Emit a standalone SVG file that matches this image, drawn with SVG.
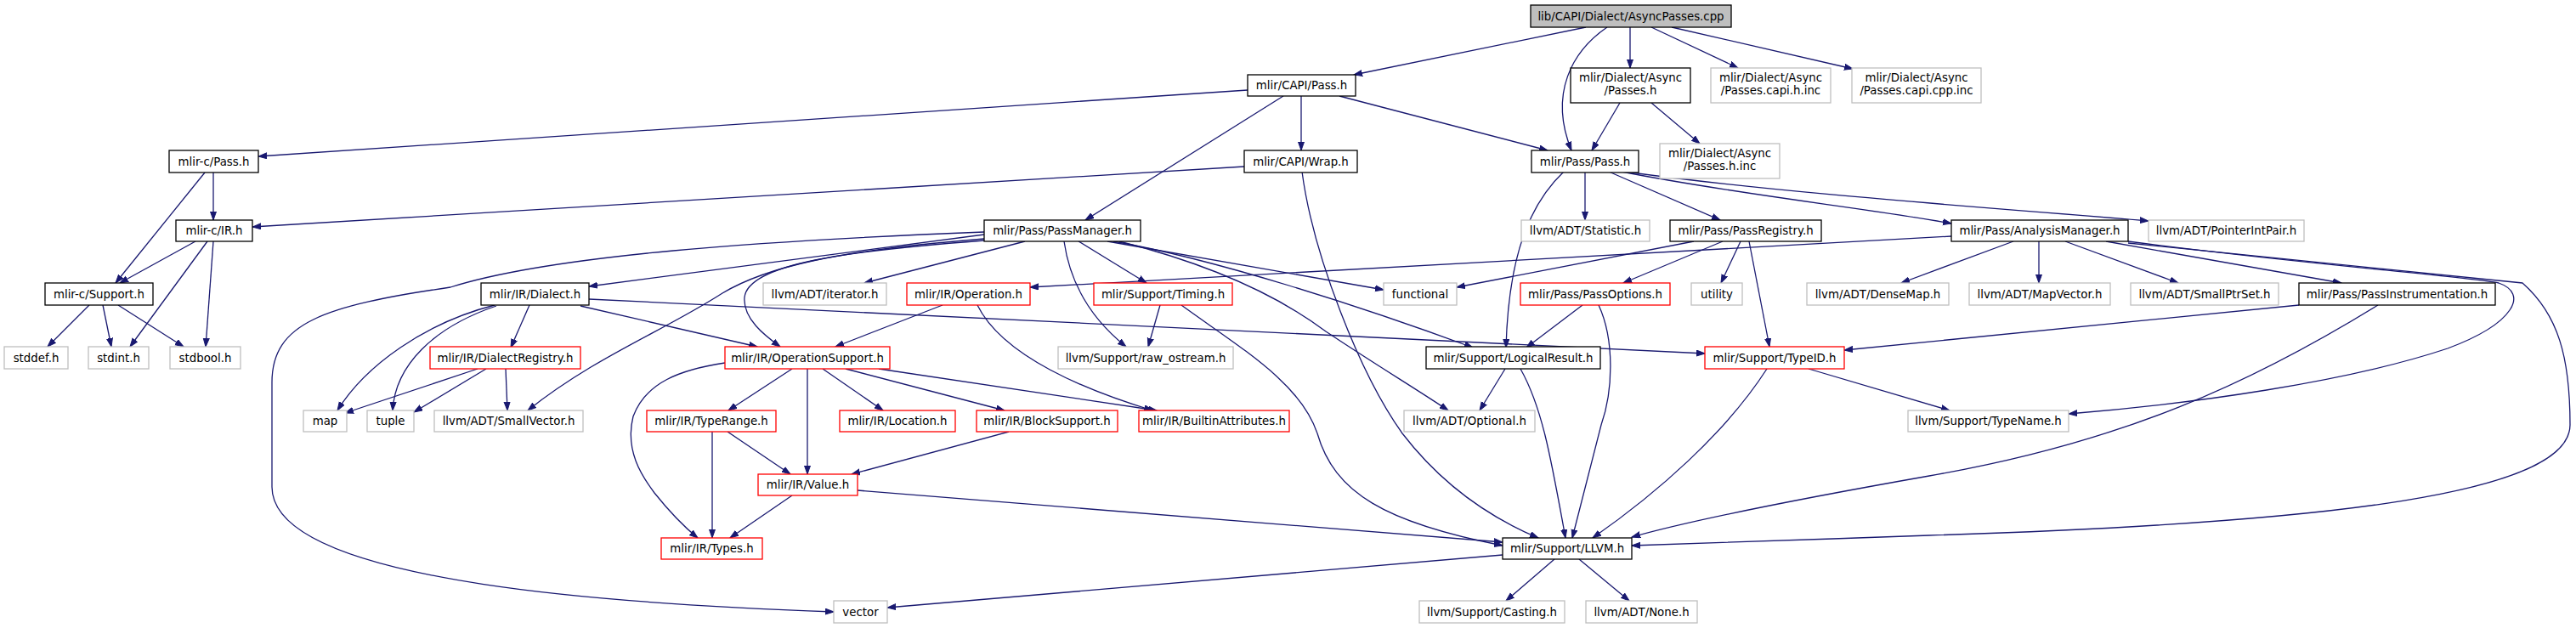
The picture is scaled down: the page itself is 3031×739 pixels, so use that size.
<svg xmlns="http://www.w3.org/2000/svg" width="3031" height="739" viewBox="0 0 3031 739">
<style>
rect{stroke-width:1.3}
.doc{fill:#fff;stroke:#000}
.ext{fill:#fff;stroke:#bfbfbf}
.tr{fill:#fff;stroke:#ff0000}
.root{fill:#bfbfbf;stroke:#000}
text{font-family:"DejaVu Sans",sans-serif;font-size:13.33px;text-anchor:middle;fill:#000}
#edges path{fill:none;stroke:#191970;stroke-width:1.3;marker-end:url(#a)}
</style>
<defs>
<marker id="a" markerWidth="11" markerHeight="9" refX="10" refY="4" orient="auto" markerUnits="userSpaceOnUse">
<path d="M0,0.5 L10,4 L0,7.5 z" fill="#191970" stroke="#191970" stroke-width="1"/>
</marker>
</defs>
<rect width="3031" height="739" fill="#fff"/>
<g id="edges">
<path d="M1866,32 L1593,88"/>
<path d="M1891,32 C1850,60 1822,110 1849,177"/>
<path d="M1918,32 L1918,80"/>
<path d="M1943,32 L2045,80"/>
<path d="M1967,32 L2180,81"/>
<path d="M1468,106 L304,184"/>
<path d="M1510,113 L1277,259"/>
<path d="M1576,113 L1821,177"/>
<path d="M1531,113 L1531,177"/>
<path d="M1906,121 L1873,177"/>
<path d="M1943,121 L2000,169"/>
<path d="M241,203 L136,333"/>
<path d="M251,203 L251,259"/>
<path d="M1464,196 L297,267"/>
<path d="M1532,202 C1545,300 1600,440 1650,510 C1700,575 1760,612 1810,633"/>
<path d="M1840,202 C1800,240 1775,300 1772,409"/>
<path d="M1865,202 L1865,259"/>
<path d="M1893,202 L2024,259"/>
<path d="M1908,202 C2050,230 2200,245 2296,263"/>
<path d="M1912,202 C2100,228 2350,245 2528,260"/>
<path d="M1158,273 C900,283 650,300 530,338 C380,360 320,380 320,450 L320,573 C320,690 760,712 981,720"/>
<path d="M1158,276 L693,337"/>
<path d="M1158,281 C980,295 900,315 850,345 C780,390 700,420 621,483"/>
<path d="M1158,283 C1000,295 880,310 876,350 C874,375 900,395 918,408"/>
<path d="M1206,284 L1017,333"/>
<path d="M1252,284 C1260,340 1290,380 1325,408"/>
<path d="M1269,284 L1349,333"/>
<path d="M1303,284 L1628,341"/>
<path d="M1310,284 C1430,305 1600,360 1733,409"/>
<path d="M1317,284 C1420,310 1500,345 1560,390 C1620,430 1670,460 1704,483"/>
<path d="M1993,284 L1714,338"/>
<path d="M2027,284 L1910,333"/>
<path d="M2048,284 L2025,333"/>
<path d="M2058,284 L2082,408"/>
<path d="M2296,278 L1212,338"/>
<path d="M2369,284 L2237,333"/>
<path d="M2399,284 L2399,333"/>
<path d="M2430,284 L2563,333"/>
<path d="M2478,284 L2755,333"/>
<path d="M2504,284 C2700,310 2900,325 2940,333 C2975,345 2960,380 2880,410 C2760,450 2580,475 2434,487"/>
<path d="M2504,286 L2968,333 C3010,370 3024,420 3024,500 C3024,580 2750,615 2270,630 C2150,634 2000,640 1920,642"/>
<path d="M2705,359 L2170,412"/>
<path d="M2798,359 C2650,450 2500,520 2270,560 C2100,590 1980,615 1920,632"/>
<path d="M1862,359 L1796,409"/>
<path d="M1881,359 C1900,400 1898,460 1884,500 L1850,633"/>
<path d="M1771,434 L1741,483"/>
<path d="M1789,434 C1815,480 1825,540 1842,633"/>
<path d="M2079,434 C2030,510 1950,580 1874,633"/>
<path d="M2128,434 L2294,483"/>
<path d="M1365,359 L1351,408"/>
<path d="M1390,359 C1460,410 1530,450 1550,510 C1570,580 1630,615 1768,642"/>
<path d="M1109,359 L983,408"/>
<path d="M1150,359 C1180,420 1280,460 1356,483"/>
<path d="M623,359 L601,409"/>
<path d="M582,359 C500,380 430,430 397,483"/>
<path d="M584,360 C510,385 465,430 462,483"/>
<path d="M683,360 L891,408"/>
<path d="M693,352 L2006,416"/>
<path d="M562,434 L406,486"/>
<path d="M572,434 L487,485"/>
<path d="M595,434 L597,483"/>
<path d="M853,427 C800,435 760,450 745,490 C735,530 755,560 770,580 C790,605 805,620 821,633"/>
<path d="M932,434 L857,483"/>
<path d="M950,434 L950,558"/>
<path d="M968,434 L1039,483"/>
<path d="M995,434 L1182,483"/>
<path d="M1034,434 L1361,483"/>
<path d="M838,508 L838,633"/>
<path d="M856,508 L930,558"/>
<path d="M1187,508 L1002,558"/>
<path d="M932,583 L859,633"/>
<path d="M1009,577 L1768,638"/>
<path d="M1768,653 L1044,715"/>
<path d="M1829,658 L1772,707"/>
<path d="M1858,658 L1917,707"/>
<path d="M230,284 L141,333"/>
<path d="M244,284 L153,408"/>
<path d="M251,284 L242,408"/>
<path d="M105,359 L56,408"/>
<path d="M121,359 L131,408"/>
<path d="M139,359 L216,408"/>
</g>
<g id="n_root"><rect class="root" x="1801" y="6" width="236" height="26"/><text x="1919" y="23.5">lib/CAPI/Dialect/AsyncPasses.cpp</text></g>
<g id="n_capi_pass"><rect class="doc" x="1468" y="88" width="127" height="25"/><text x="1531.5" y="105">mlir/CAPI/Pass.h</text></g>
<g id="n_async_passes"><rect class="doc" x="1848" y="80" width="141" height="41"/><text x="1918.5" y="96">mlir/Dialect/Async</text><text x="1918.5" y="111">/Passes.h</text></g>
<g id="n_capi_h_inc"><rect class="ext" x="2013" y="80" width="141" height="41"/><text x="2083.5" y="96">mlir/Dialect/Async</text><text x="2083.5" y="111">/Passes.capi.h.inc</text></g>
<g id="n_capi_cpp_inc"><rect class="ext" x="2179" y="80" width="152" height="41"/><text x="2255" y="96">mlir/Dialect/Async</text><text x="2255" y="111">/Passes.capi.cpp.inc</text></g>
<g id="n_c_pass"><rect class="doc" x="199" y="177" width="105" height="26"/><text x="251.5" y="194.5">mlir-c/Pass.h</text></g>
<g id="n_wrap"><rect class="doc" x="1464" y="177" width="133" height="26"/><text x="1530.5" y="194.5">mlir/CAPI/Wrap.h</text></g>
<g id="n_pass_pass"><rect class="doc" x="1802" y="177" width="126" height="26"/><text x="1865" y="194.5">mlir/Pass/Pass.h</text></g>
<g id="n_passes_h_inc"><rect class="ext" x="1953" y="169" width="141" height="41"/><text x="2023.5" y="185">mlir/Dialect/Async</text><text x="2023.5" y="200">/Passes.h.inc</text></g>
<g id="n_c_ir"><rect class="doc" x="207" y="259" width="90" height="25"/><text x="252" y="276">mlir-c/IR.h</text></g>
<g id="n_passmanager"><rect class="doc" x="1158" y="259" width="184" height="25"/><text x="1250" y="276">mlir/Pass/PassManager.h</text></g>
<g id="n_statistic"><rect class="ext" x="1790" y="259" width="151" height="25"/><text x="1865.5" y="276">llvm/ADT/Statistic.h</text></g>
<g id="n_registry"><rect class="doc" x="1965" y="259" width="178" height="25"/><text x="2054" y="276">mlir/Pass/PassRegistry.h</text></g>
<g id="n_analysis"><rect class="doc" x="2296" y="259" width="208" height="25"/><text x="2400" y="276">mlir/Pass/AnalysisManager.h</text></g>
<g id="n_pointerint"><rect class="ext" x="2528" y="259" width="183" height="25"/><text x="2619.5" y="276">llvm/ADT/PointerIntPair.h</text></g>
<g id="n_c_support"><rect class="doc" x="53" y="333" width="127" height="26"/><text x="116.5" y="350.5">mlir-c/Support.h</text></g>
<g id="n_dialect"><rect class="doc" x="566" y="333" width="127" height="26"/><text x="629.5" y="350.5">mlir/IR/Dialect.h</text></g>
<g id="n_iterator"><rect class="ext" x="898" y="333" width="145" height="26"/><text x="970.5" y="350.5">llvm/ADT/iterator.h</text></g>
<g id="n_operation"><rect class="tr" x="1067" y="333" width="145" height="26"/><text x="1139.5" y="350.5">mlir/IR/Operation.h</text></g>
<g id="n_timing"><rect class="tr" x="1287" y="333" width="163" height="26"/><text x="1368.5" y="350.5">mlir/Support/Timing.h</text></g>
<g id="n_functional"><rect class="ext" x="1628" y="333" width="86" height="26"/><text x="1671" y="350.5">functional</text></g>
<g id="n_passoptions"><rect class="tr" x="1789" y="333" width="176" height="26"/><text x="1877" y="350.5">mlir/Pass/PassOptions.h</text></g>
<g id="n_utility"><rect class="ext" x="1990" y="333" width="60" height="26"/><text x="2020" y="350.5">utility</text></g>
<g id="n_densemap"><rect class="ext" x="2126" y="333" width="167" height="26"/><text x="2209.5" y="350.5">llvm/ADT/DenseMap.h</text></g>
<g id="n_mapvector"><rect class="ext" x="2317" y="333" width="166" height="26"/><text x="2400" y="350.5">llvm/ADT/MapVector.h</text></g>
<g id="n_smallptrset"><rect class="ext" x="2507" y="333" width="174" height="26"/><text x="2594" y="350.5">llvm/ADT/SmallPtrSet.h</text></g>
<g id="n_passinstr"><rect class="doc" x="2705" y="333" width="231" height="26"/><text x="2820.5" y="350.5">mlir/Pass/PassInstrumentation.h</text></g>
<g id="n_stddef"><rect class="ext" x="5" y="408" width="75" height="26"/><text x="42.5" y="425.5">stddef.h</text></g>
<g id="n_stdint"><rect class="ext" x="104" y="408" width="71" height="26"/><text x="139.5" y="425.5">stdint.h</text></g>
<g id="n_stdbool"><rect class="ext" x="200" y="408" width="83" height="26"/><text x="241.5" y="425.5">stdbool.h</text></g>
<g id="n_dialectreg"><rect class="tr" x="506" y="408" width="177" height="26"/><text x="594.5" y="425.5">mlir/IR/DialectRegistry.h</text></g>
<g id="n_opsupport"><rect class="tr" x="853" y="408" width="194" height="26"/><text x="950" y="425.5">mlir/IR/OperationSupport.h</text></g>
<g id="n_raw_ostream"><rect class="ext" x="1245" y="408" width="206" height="26"/><text x="1348" y="425.5">llvm/Support/raw_ostream.h</text></g>
<g id="n_logicalresult"><rect class="doc" x="1678" y="408" width="205" height="26"/><text x="1780.5" y="425.5">mlir/Support/LogicalResult.h</text></g>
<g id="n_typeid"><rect class="tr" x="2006" y="408" width="164" height="26"/><text x="2088" y="425.5">mlir/Support/TypeID.h</text></g>
<g id="n_map"><rect class="ext" x="357" y="483" width="51" height="25"/><text x="382.5" y="500">map</text></g>
<g id="n_tuple"><rect class="ext" x="432" y="483" width="55" height="25"/><text x="459.5" y="500">tuple</text></g>
<g id="n_smallvector"><rect class="ext" x="511" y="483" width="175" height="25"/><text x="598.5" y="500">llvm/ADT/SmallVector.h</text></g>
<g id="n_typerange"><rect class="tr" x="761" y="483" width="152" height="25"/><text x="837" y="500">mlir/IR/TypeRange.h</text></g>
<g id="n_location"><rect class="tr" x="988" y="483" width="136" height="25"/><text x="1056" y="500">mlir/IR/Location.h</text></g>
<g id="n_blocksupport"><rect class="tr" x="1149" y="483" width="166" height="25"/><text x="1232" y="500">mlir/IR/BlockSupport.h</text></g>
<g id="n_builtinattr"><rect class="tr" x="1340" y="483" width="177" height="25"/><text x="1428.5" y="500">mlir/IR/BuiltinAttributes.h</text></g>
<g id="n_optional"><rect class="ext" x="1652" y="483" width="154" height="25"/><text x="1729" y="500">llvm/ADT/Optional.h</text></g>
<g id="n_typename"><rect class="ext" x="2245" y="483" width="189" height="25"/><text x="2339.5" y="500">llvm/Support/TypeName.h</text></g>
<g id="n_value"><rect class="tr" x="892" y="558" width="117" height="25"/><text x="950.5" y="575">mlir/IR/Value.h</text></g>
<g id="n_types"><rect class="tr" x="778" y="633" width="119" height="25"/><text x="837.5" y="650">mlir/IR/Types.h</text></g>
<g id="n_llvm"><rect class="doc" x="1768" y="633" width="152" height="25"/><text x="1844" y="650">mlir/Support/LLVM.h</text></g>
<g id="n_vector"><rect class="ext" x="981" y="707" width="63" height="26"/><text x="1012.5" y="724.5">vector</text></g>
<g id="n_casting"><rect class="ext" x="1670" y="707" width="171" height="26"/><text x="1755.5" y="724.5">llvm/Support/Casting.h</text></g>
<g id="n_none"><rect class="ext" x="1866" y="707" width="131" height="26"/><text x="1931.5" y="724.5">llvm/ADT/None.h</text></g>
</svg>
